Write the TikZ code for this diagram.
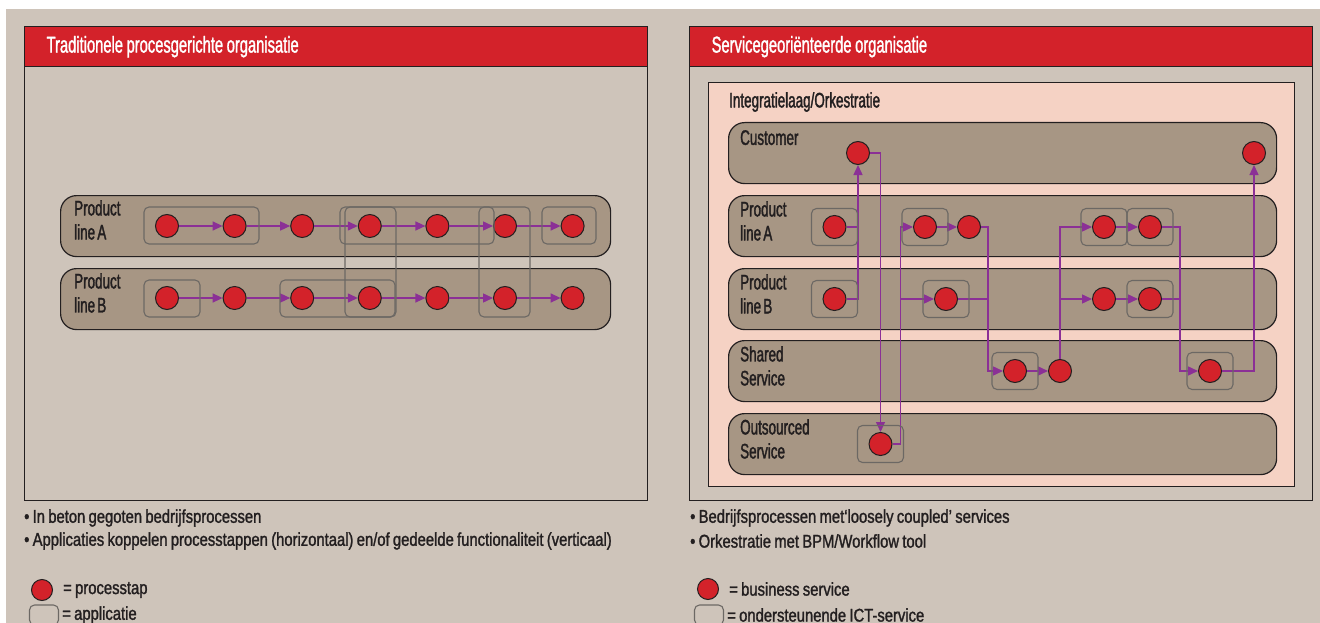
\documentclass[tikz,border=0pt]{standalone}
\usepackage{fontspec}
\setmainfont{Liberation Sans}[FakeStretch=0.64, FakeBold=1.6, WordSpace=0.6]
\newfontfamily\headfont{Liberation Sans}[FakeStretch=0.64, FakeBold=1.3]
\newfontfamily\notefont{Liberation Sans}[FakeStretch=0.8, FakeBold=1.4, WordSpace=0.8]
\usetikzlibrary{positioning, calc, arrows.meta}
\definecolor{bgsand}{RGB}{206,196,186}
\definecolor{lanefill}{RGB}{167,150,132}
\definecolor{pinkfill}{RGB}{245,210,196}
\definecolor{hdrred}{RGB}{211,34,42}
\definecolor{inkdark}{RGB}{35,31,32}
\definecolor{flowpurple}{RGB}{139,48,150}
\definecolor{boxgray}{RGB}{108,104,100}
\tikzset{pnl/.style={draw=inkdark, line width=1.3pt, anchor=north west, minimum width=623, minimum height=474, inner sep=0}}
\tikzset{hdr/.style={fill=hdrred, draw=inkdark, line width=1.3pt, anchor=north west, minimum width=623, minimum height=40, text width=579, inner xsep=22, inner ysep=0, align=left, text=white, font=\headfont\fontsize{23}{26}\selectfont, execute at begin node={\spaceskip=3.6pt plus 1pt\relax}}}
\tikzset{orchbox/.style={fill=pinkfill, draw=inkdark, line width=1.2pt, anchor=north west, minimum width=586, minimum height=404, inner sep=0}}
\tikzset{lanebox/.style={fill=lanefill, draw=inkdark, line width=1.2pt, rounded corners=16, anchor=north west, minimum height=61, inner sep=0}}
\tikzset{lanelbl/.style={inner sep=0, align=left, text=inkdark, font=\fontsize{21}{24}\selectfont}}
\tikzset{stepdot/.style={circle, fill=hdrred, draw=inkdark, line width=1pt, minimum size=23, inner sep=0}}
\tikzset{appbox/.style={draw=boxgray, line width=1.1pt, rounded corners=5}}
\tikzset{svcbox/.style={appbox, minimum width=46, minimum height=37, inner sep=0}}
\tikzset{link/.style={draw=flowpurple, line width=1.4pt}}
\tikzset{flow/.style={link, -{Triangle[length=10pt, width=9pt]}}}
\tikzset{note/.style={inner sep=0, anchor=west, text=inkdark, font=\notefont\fontsize{18.5}{22}\selectfont}}

\begin{document}
\begin{tikzpicture}[x=1pt, y=-1pt]
    \useasboundingbox (0,0) rectangle (1320,623);
    \fill[white] (0,0) rectangle (1320,623);
    \fill[bgsand] (6,9) rectangle (1320,623);

    % traditioneel
    \node[pnl] (lpnl) at (24,26) {};
    \node[hdr] (lhdr) at (24,26) {Traditionele procesgerichte organisatie};
    \node[lanebox, minimum width=550] (lpa) at (60,195) {};
    \node[lanebox, minimum width=550] (lpb) at (60,268) {};
    \node[lanelbl, below right=5pt and 14pt of lpa.north west] (lpalbl) {Product\\line A};
    \node[lanelbl, below right=5pt and 14pt of lpb.north west] (lpblbl) {Product\\line B};

    \foreach \i in {1,...,7} {
        \node[stepdot] (a\i) at ({167+67.6*(\i-1)},226) {};
        \node[stepdot] (b\i) at ({167+67.6*(\i-1)},298) {};
    }
    \foreach \i in {1,...,6} {
        \pgfmathtruncatemacro\j{\i+1}
        \draw[flow] (a\i) -- (a\j);
        \draw[flow] (b\i) -- (b\j);
    }
    \draw[appbox] (144,207) rectangle (259,244);
    \draw[appbox] (340,207) rectangle (494,244);
    \draw[appbox] (345,207) rectangle (396,317);
    \draw[appbox] (479,207) rectangle (530,317);
    \draw[appbox] (542,207) rectangle (596,244);
    \draw[appbox] (144,280) rectangle (200,317);
    \draw[appbox] (280,280) rectangle (395,317);

    % servicegeorienteerd
    \node[pnl] (rpnl) at (689,26) {};
    \node[hdr] (rhdr) at (689,26) {Servicegeoriënteerde organisatie};
    \node[orchbox] (orch) at (708,82) {};
    \node[lanelbl, below right=10pt and 21pt of orch.north west] (orchlbl) {Integratielaag/Orkestratie};

    \node[lanebox, minimum width=548] (cust) at (728,122) {};
    \node[lanebox, minimum width=548] (rpa) at (728,195) {};
    \node[lanebox, minimum width=548] (rpb) at (728,268) {};
    \node[lanebox, minimum width=548] (shrd) at (728,340) {};
    \node[lanebox, minimum width=548] (outs) at (728,413) {};
    \node[lanelbl, below right=8pt and 12pt of cust.north west] (custlbl) {Customer};
    \node[lanelbl, below right=6pt and 12pt of rpa.north west] (rpalbl) {Product\\line A};
    \node[lanelbl, below right=6pt and 12pt of rpb.north west] (rpblbl) {Product\\line B};
    \node[lanelbl, below right=6pt and 12pt of shrd.north west] (shrdlbl) {Shared\\Service};
    \node[lanelbl, below right=6pt and 12pt of outs.north west] (outslbl) {Outsourced\\Service};

    \node[stepdot] (cu1) at (858,153) {};
    \node[stepdot] (cu2) at (1254,153) {};
    \node[stepdot] (pa1) at (834.5,227) {};
    \node[stepdot] (pa2) at (925,227) {};
    \node[stepdot] (pa3) at (969,227) {};
    \node[stepdot] (pa4) at (1104,227) {};
    \node[stepdot] (pa5) at (1150,227) {};
    \node[stepdot] (pb1) at (834.5,299) {};
    \node[stepdot] (pb2) at (946,299) {};
    \node[stepdot] (pb3) at (1104,299) {};
    \node[stepdot] (pb4) at (1150,299) {};
    \node[stepdot] (sh1) at (1015,371) {};
    \node[stepdot] (sh2) at (1060,371) {};
    \node[stepdot] (sh3) at (1210,371) {};
    \node[stepdot] (os1) at (880.5,444) {};

    \draw[flow] (pb1.east) -| (cu1.south);
    \draw[link] (pa1.east) -- (pa1.east -| cu1.south);
    \draw[flow] (cu1.east) -| (os1.north);
    \coordinate (j1) at ($(os1.east)+(8,0)$);
    \draw[link] (os1.east) -- (j1);
    \draw[flow] (j1) |- (pa2.west);
    \draw[flow] (j1) |- (pb2.west);
    \draw[flow] (pa2) -- (pa3);
    \coordinate (j2) at ($(sh1.west)+(-15,0)$);
    \draw[flow] (pa3.east) -| (j2) -- (sh1.west);
    \draw[link] (pb2.east) -- (pb2.east -| j2);
    \draw[flow] (sh1) -- (sh2);
    \draw[flow] (sh2.north) |- (pa4.west);
    \draw[flow] (sh2.north |- pb3.west) -- (pb3.west);
    \draw[flow] (pa4) -- (pa5);
    \draw[flow] (pb3) -- (pb4);
    \coordinate (j3) at ($(sh3.west)+(-18,0)$);
    \draw[flow] (pa5.east) -| (j3) -- (sh3.west);
    \draw[link] (pb4.east) -- (pb4.east -| j3);
    \draw[flow] (sh3.east) -| (cu2.south);

    \foreach \n in {pa1,pa2,pa4,pa5,pb1,pb2,pb4,sh1,sh3,os1}
        \node[svcbox] (box-\n) at (\n) {};

    % toelichting
    \node[note] (ln1) at (24,518) {\textbullet\ In beton gegoten bedrijfsprocessen};
    \node[note] (ln2) at (24,541) {\textbullet\ Applicaties koppelen processtappen (horizontaal) en/of gedeelde functionaliteit (verticaal)};
    \node[stepdot, minimum size=21] (lkdot) at (42,590) {};
    \node[note, right=10pt of lkdot] (lkdottxt) {= processtap};
    \node[svcbox, minimum width=29, minimum height=20] (lkbox) at (44,615) {};
    \node[note, right=3pt of lkbox] (lkboxtxt) {= applicatie};

    \node[note] (rn1) at (690,518) {\textbullet\ Bedrijfsprocessen met‘loosely coupled’ services};
    \node[note] (rn2) at (690,541) {\textbullet\ Orkestratie met BPM/Workflow tool};
    \node[stepdot, minimum size=21] (rkdot) at (708,589) {};
    \node[note, right=10pt of rkdot] (rkdottxt) {= business service};
    \node[svcbox, minimum width=29, minimum height=20] (rkbox) at (709,615) {};
    \node[note, right=3pt of rkbox] (rkboxtxt) {= ondersteunende ICT-service};
\end{tikzpicture}
\end{document}
